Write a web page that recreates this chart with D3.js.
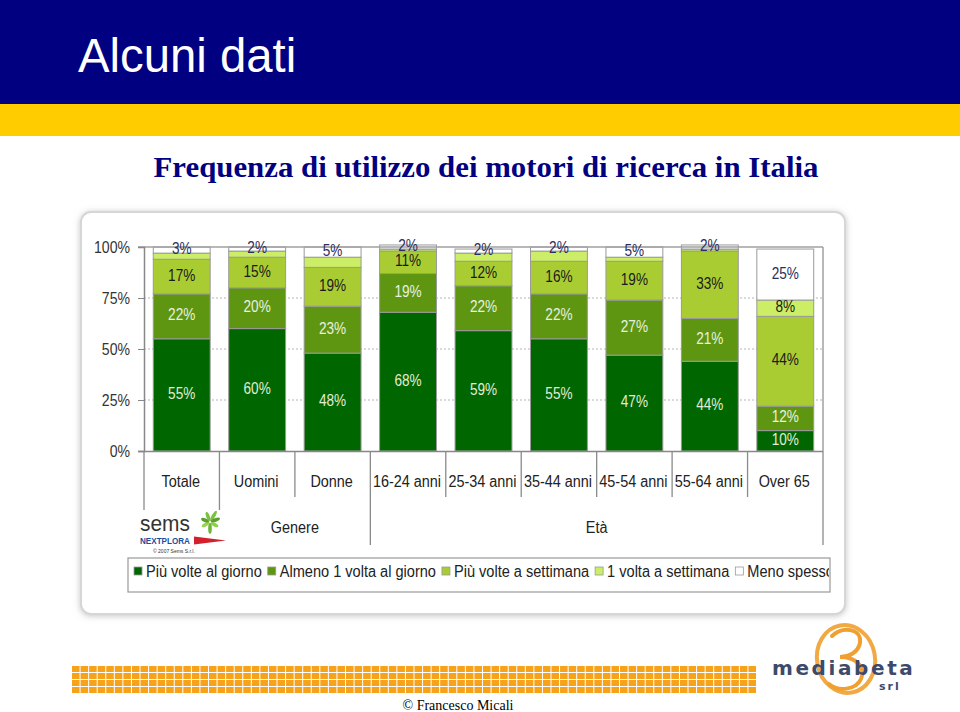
<!DOCTYPE html>
<html><head><meta charset="utf-8">
<script src="https://cdn.jsdelivr.net/npm/d3@7"></script>
<style>html,body{margin:0;padding:0;background:#fff;}svg{display:block;}</style>
</head><body>
<script>
// ---------- DATA ----------
const categories = ["Totale","Uomini","Donne","16-24 anni","25-34 anni","35-44 anni","45-54 anni","55-64 anni","Over 65"];
const seriesNames = ["Più volte al giorno","Almeno 1 volta al giorno","Più volte a settimana","1 volta a settimana","Meno spesso"];
const piuVolteGiorno    = [55,60,48,68,59,55,47,44,10];
const almenoUnaGiorno   = [22,20,23,19,22,22,27,21,12];
const piuVolteSettimana = [17,15,19,11,12,16,19,33,44];
const unaSettimana      = [3,3,5,1,4,5,2,1,8];
const menoSpesso        = [3,2,5,2,2,2,5,2,25];
const yTicks = [0,25,50,75,100];
const groupNames = ["Genere","Età"];
const groupRanges = [["Uomini","Donne"],["16-24 anni","Over 65"]];
const colors = ["#006600","#5e9612","#aacc33","#ccee66","#ffffff"];

// ---------- SETUP ----------
const W=960,H=712;
const svg=d3.select("body").append("svg").attr("width",W).attr("height",H);
const defs=svg.append("defs");
const f=defs.append("filter").attr("id","sh").attr("x","-5%").attr("y","-5%").attr("width","110%").attr("height","110%");
f.append("feDropShadow").attr("dx",0).attr("dy",1).attr("stdDeviation",3).attr("flood-color","#888").attr("flood-opacity",0.5);
const SANS="'Liberation Sans',Arial,sans-serif", SERIF="'Liberation Serif','Times New Roman',serif";
function condense(sel,k){sel.each(function(){const l=this.getComputedTextLength();d3.select(this).attr("textLength",l*k).attr("lengthAdjust","spacingAndGlyphs");});return sel;}

// header
svg.append("rect").attr("x",0).attr("y",0).attr("width",W).attr("height",104).attr("fill","#000080");
svg.append("rect").attr("x",0).attr("y",104).attr("width",W).attr("height",32).attr("fill","#ffcc00");
condense(svg.append("text").attr("x",78).attr("y",72).attr("fill","#fff").attr("font-family",SANS).attr("font-size",48).text("Alcuni dati"),0.985);
const sub=svg.append("text").attr("x",486).attr("y",177).attr("text-anchor","middle").attr("fill","#000080")
  .attr("font-family",SERIF).attr("font-weight","bold").attr("font-size",30)
  .text("Frequenza di utilizzo dei motori di ricerca in Italia");
sub.attr("textLength",665).attr("lengthAdjust","spacingAndGlyphs");

// panel
svg.append("rect").attr("x",81).attr("y",212).attr("width",764).attr("height",402).attr("rx",10)
  .attr("fill","#fff").attr("stroke","#d6d6d6").attr("stroke-width",2).attr("filter","url(#sh)");

// scales
const x=d3.scaleBand().domain(categories).range([144,823]).paddingInner(0.246).paddingOuter(0.123);
const y=d3.scaleLinear().domain([0,100]).range([451,247]);
const step=x.step();
const halfGap=(step-x.bandwidth())/2;

// gridlines
const g=svg.append("g");
g.selectAll("line.grid").data(yTicks.filter(t=>t>0&&t<100)).join("line")
  .attr("x1",144).attr("x2",823).attr("y1",d=>y(d)).attr("y2",d=>y(d))
  .attr("stroke","#b5b5b5").attr("stroke-dasharray","2,2");

// stack
const rows=categories.map((c,i)=>({cat:c,s0:piuVolteGiorno[i],s1:almenoUnaGiorno[i],s2:piuVolteSettimana[i],s3:unaSettimana[i],s4:menoSpesso[i]}));
const keys=["s0","s1","s2","s3","s4"];
const stacked=d3.stack().keys(keys)(rows);
const layers=g.selectAll("g.layer").data(stacked).join("g").attr("fill",(d,i)=>colors[i]);
layers.selectAll("rect").data(d=>d).join("rect")
  .attr("x",d=>x(d.data.cat)).attr("width",x.bandwidth())
  .attr("y",d=>y(d[1])).attr("height",d=>y(d[0])-y(d[1]))
  .attr("stroke","#9a9a9a").attr("stroke-width",1);

// axes frame
g.append("line").attr("x1",138).attr("x2",823).attr("y1",y(100)).attr("y2",y(100)).attr("stroke","#a0a0a0").attr("stroke-width",1.5);
g.append("line").attr("x1",823).attr("x2",823).attr("y1",y(100)).attr("y2",451).attr("stroke","#a0a0a0").attr("stroke-width",1.5);
const yAxis=d3.axisLeft(y).tickValues(yTicks).tickFormat(d=>d+"%").tickSize(6).tickPadding(8);
const ya=g.append("g").attr("transform","translate(144,0)").call(yAxis);
ya.select(".domain").attr("stroke","#888").attr("stroke-width",1.5);
ya.selectAll(".tick line").attr("stroke","#888");
ya.selectAll(".tick text").attr("font-family",SANS).attr("font-size",16).attr("fill","#333");
condense(ya.selectAll(".tick text"),0.88);
g.append("line").attr("x1",138).attr("x2",823).attr("y1",451.5).attr("y2",451.5).attr("stroke","#888").attr("stroke-width",1.5);

// category separators
const sepX=categories.map((c,i)=>({x:x(c)-halfGap,i}));
sepX.push({x:823,i:categories.length});
const sepEnd=i=>{
  if(i===0||i===1) return 510;
  if(i===categories.length) return 545;
  if(categories[i]===groupRanges[1][0]) return 545;
  return 497;
};
g.selectAll("line.sep").data(sepX).join("line").attr("class","sep")
  .attr("x1",d=>d.x).attr("x2",d=>d.x).attr("y1",451).attr("y2",d=>sepEnd(d.i))
  .attr("stroke","#8a8a8a").attr("stroke-width",1.3);

// category labels
const cl=g.selectAll("text.cat").data(categories).join("text").attr("class","cat")
  .attr("x",d=>x(d)+x.bandwidth()/2-1).attr("y",487).attr("text-anchor","middle")
  .attr("font-family",SANS).attr("font-size",16).attr("fill","#222").text(d=>d);
condense(cl,0.9);
// group labels
const gl=g.selectAll("text.grp").data(groupNames).join("text").attr("class","grp")
  .attr("x",(d,i)=>{const a=x(groupRanges[i][0])-halfGap;const b=i===groupNames.length-1?823:x(groupRanges[i][1])+x.bandwidth()+halfGap;return (a+b)/2;})
  .attr("y",533).attr("text-anchor","middle").attr("font-family",SANS).attr("font-size",16).attr("fill","#222").text(d=>d);
condense(gl,0.9);

// value labels
const labColor=["#e2ecd8","#e8f0e0","#1a1a1a","#1a1a1a","#2d2d5c"];
stacked.forEach((layer,li)=>{
  const data=layer.filter(d=>li===4||(d[1]-d[0])>=6);
  const t=g.selectAll("text.v"+li).data(data).join("text").attr("class","v"+li)
    .attr("x",d=>x(d.data.cat)+x.bandwidth()/2).attr("y",d=>(y(d[0])+y(d[1]))/2+4)
    .attr("text-anchor","middle").attr("font-family",SANS).attr("font-size",16).attr("fill",labColor[li])
    .text(d=>(d[1]-d[0])+"%");
  condense(t,0.85);
});

// sems logo
const sl=svg.append("g");
condense(sl.append("text").attr("x",140).attr("y",531).attr("font-family",SANS).attr("font-size",22).attr("fill","#333").text("sems"),0.95);
const star=sl.append("g").attr("transform","translate(210,522)");
[[-60,10,"#7cc242"],[-20,8,"#5aa02c"],[30,7,"#8cd04a"],[90,9,"#6ab436"],[150,7,"#9ad454"],[200,7,"#5aa02c"],[250,8,"#7cc242"]].forEach(([a,l,c])=>{
  star.append("ellipse").attr("cx",l*0.6+1).attr("cy",0).attr("rx",l*0.6).attr("ry",1.8).attr("fill",c).attr("transform","rotate("+a+")");
});
condense(sl.append("text").attr("x",140).attr("y",544).attr("font-family",SANS).attr("font-weight","bold").attr("font-size",9).attr("fill","#1d4c9c").text("NEXTPLORA"),0.9);
sl.append("path").attr("d","M194,536.5 L226,540.5 L194,544.5 Z").attr("fill","#d2202c");
sl.append("text").attr("x",153).attr("y",553).attr("font-family",SANS).attr("font-size",5).attr("fill","#333").text("© 2007 Sems S.r.l.");

// legend
const lg=svg.append("g");
lg.append("rect").attr("x",128).attr("y",558).attr("width",702).attr("height",34).attr("fill","#fff").attr("stroke","#999").attr("stroke-width",1.2);
defs.append("clipPath").attr("id","lc").append("rect").attr("x",129).attr("y",559).attr("width",700).attr("height",32);
const li=lg.append("g").attr("clip-path","url(#lc)");
let lx=134;
seriesNames.forEach((n,i)=>{
  li.append("rect").attr("x",lx).attr("y",567).attr("width",8).attr("height",8).attr("fill",colors[i]).attr("stroke","#999").attr("stroke-width",0.8);
  const t=li.append("text").attr("x",lx+12).attr("y",577).attr("font-family",SANS).attr("font-size",16).attr("fill","#222").text(n);
  const len=t.node().getComputedTextLength()*0.91;
  t.attr("textLength",len).attr("lengthAdjust","spacingAndGlyphs");
  lx+=12+len+6;
});

// bottom orange grid
const og=svg.append("g").attr("fill","#f7a21b");
const cols=80, cw=(757-72)/cols;
for(let r=0;r<4;r++)for(let c=0;c<cols;c++){
  og.append("rect").attr("x",72+c*cw).attr("y",666+r*7).attr("width",cw-1).attr("height",6);
}

// mediabeta logo
const mb=svg.append("g");
mb.append("ellipse").attr("cx",846).attr("cy",659).attr("rx",29).attr("ry",34).attr("fill","none")
  .attr("stroke","#f0a030").attr("stroke-width",4).attr("transform","rotate(-10,846,659)").attr("opacity",0.9);
mb.append("path").attr("d","M832,636 C842,626 862,628 860,643 C858,653 848,657 840,657 C856,657 866,667 861,679 C856,690 838,692 829,684")
  .attr("fill","none").attr("stroke","#f0a030").attr("stroke-width",4).attr("stroke-linecap","round");
mb.append("text").attr("x",772).attr("y",675).attr("font-family","'DejaVu Sans',sans-serif").attr("font-weight","bold")
  .attr("font-size",20).attr("letter-spacing",2.6).attr("fill","#3d4a6b").text("mediabeta");
mb.append("text").attr("x",879).attr("y",690).attr("font-family","'DejaVu Sans',sans-serif").attr("font-weight","bold")
  .attr("font-size",11).attr("letter-spacing",2).attr("fill","#3d4a6b").text("srl");

// copyright
svg.append("text").attr("x",458).attr("y",710).attr("text-anchor","middle").attr("font-family",SERIF).attr("font-size",14).attr("fill","#000").text("© Francesco Micali");
</script>
</body></html>
